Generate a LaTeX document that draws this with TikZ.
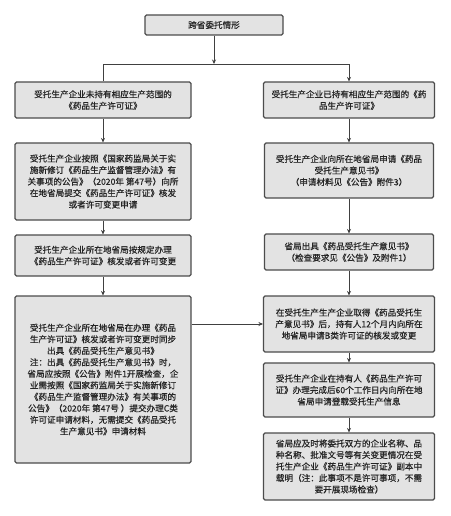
\documentclass[tikz,border=0pt]{standalone}
\usepackage{fontspec}
\newfontfamily\cjk[FakeBold=0.6]{Noto Sans CJK SC}
\usetikzlibrary{arrows.meta}
\tikzset{
  box/.style={draw=black!70, line width=1.1pt, fill=black!11, rounded corners=1.5pt,
    align=center, inner xsep=2pt, inner ysep=2pt, text=black!85,
    font=\cjk\fontsize{8.6}{11.5}\selectfont},
  conn/.style={draw=black!75, line width=0.7pt},
  arr/.style={conn, -{Stealth[length=4.5pt,width=4pt]}}
}
\begin{document}
\begin{tikzpicture}[x=1pt,y=-1pt]
\useasboundingbox (0,0) rectangle (450,516);
\fill[white] (0,0) rectangle (450,516);
\node[box, minimum width=138pt, minimum height=20pt] (top) at (214,25) {跨省委托情形};
\node[box, minimum width=176pt, minimum height=36pt] (l1) at (103,100)
  {受托生产企业未持有相应生产范围的\\《药品生产许可证》};
\node[box, minimum width=171pt, minimum height=36pt] (r1) at (349,100)
  {受托生产企业已持有相应生产范围的《药\\品生产许可证》};
\node[box, minimum width=176pt, minimum height=77pt] (l2) at (103,181.5)
  {受托生产企业按照《国家药监局关于实\\施新修订《药品生产监督管理办法》有\\关事项的公告》（2020年 第47号）向所\\在地省局提交《药品生产许可证》核发\\或者许可变更申请};
\node[box, minimum width=169pt, minimum height=55pt] (r2) at (349,170.5)
  {受托生产企业向所在地省局申请《药品\\受托生产意见书》\\（申请材料见《公告》附件3）};
\node[box, minimum width=176pt, minimum height=41pt] (l3) at (103,255.5)
  {受托生产企业所在地省局按规定办理\\《药品生产许可证》核发或者许可变更};
\node[box, minimum width=169pt, minimum height=36pt] (r3) at (349,252)
  {省局出具《药品受托生产意见书》\\（检查要求见《公告》及附件1）};
\node[box, minimum width=176pt, minimum height=167pt] (l4) at (103,379.5)
  {受托生产企业所在地省局在办理《药品\\生产许可证》核发或者许可变更时同步\\出具《药品受托生产意见书》\\注：出具《药品受托生产意见书》时，\\省局应按照《公告》附件1开展检查，企\\业需按照《国家药监局关于实施新修订\\《药品生产监督管理办法》有关事项的\\公告》（2020年 第47号 ）提交办理C类\\许可证申请材料，无需提交《药品受托\\生产意见书》申请材料};
\node[box, minimum width=171pt, minimum height=56pt] (r4) at (349,324)
  {在受托生产生产企业取得《药品受托生\\产意见书》后，持有人12个月内向所在\\地省局申请B类许可证的核发或变更};
\node[box, minimum width=171pt, minimum height=54pt] (r5) at (349,390)
  {受托生产企业在持有人《药品生产许可\\证》办理完成后60个工作日内向所在地\\省局申请登载受托生产信息};
\node[box, minimum width=171pt, minimum height=67pt] (r6) at (349,466.5)
  {省局应及时将委托双方的企业名称、品\\种名称、批准文号等有关变更情况在受\\托生产企业《药品生产许可证》副本中\\载明（注：此事项不是许可事项，不需\\要开展现场检查）};
\coordinate (j) at (214,64);
\draw[arr] (top.south) -- (j);
\draw[conn] (j) -| (l1.north);
\draw[arr] (j) -| (r1.north);
\draw[arr] (l1) -- (l2);
\draw[arr] (l2) -- (l3);
\draw[arr] (l3) -- (l4);
\draw[arr] (r1) -- (r2);
\draw[arr] (r2) -- (r3);
\draw[arr] (r3) -- (r4);
\draw[arr] (r4) -- (r5);
\draw[arr] (r5) -- (r6);
\draw[arr] (l4.east |- r4.west) -- (r4.west);
\end{tikzpicture}
\end{document}
